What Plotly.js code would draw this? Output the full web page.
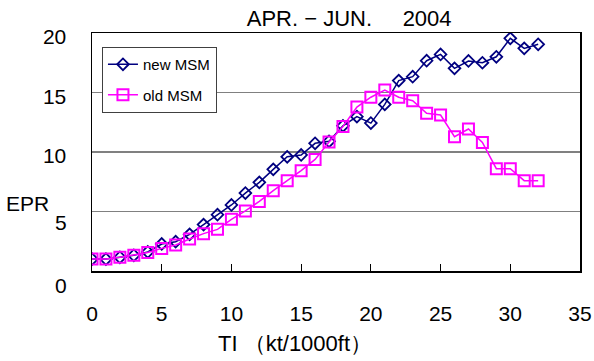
<!DOCTYPE html>
<html>
<head>
<meta charset="utf-8">
<script src="https://cdn.plot.ly/plotly-3.0.1.min.js"></script>
<style>html,body{margin:0;padding:0;background:#fff;}#chart{width:594px;height:361px;}</style>
</head>
<body>
<div id="chart"></div>
<script>
const TI = [0,1,2,3,4,5,6,7,8,9,10,11,12,13,14,15,16,17,18,19,20,21,22,23,24,25,26,27,28,29,30,31,32];
const newMSM = [1.0,1.0,1.15,1.32,1.6,2.27,2.46,3.08,3.9,4.73,5.55,6.55,7.45,8.54,9.6,9.75,10.73,10.9,12.2,12.97,12.43,14.0,16.0,16.33,17.67,18.2,17.03,17.65,17.5,18.0,19.55,18.71,19.05];
const oldMSM = [1.0,1.0,1.15,1.32,1.55,1.9,2.18,2.69,3.14,3.5,4.34,5.05,5.85,6.75,7.59,8.43,9.38,10.84,12.15,13.78,14.6,15.21,14.6,14.31,13.25,13.11,11.29,11.93,10.8,8.6,8.6,7.59,7.59];
const seriesNames = ['new MSM', 'old MSM'];
const xTicks = [0,5,10,15,20,25,30,35];
const yGrid = [5,10,15,20];
const yTickLabels = ['', '10', '15', '20'];
const yTicksLow = [5,0];
const titleText = 'APR. \u2212 JUN.\u00a0\u00a0\u00a0\u00a0 2004';
const xTitle = 'TI \uff08kt/1000ft\uff09';
const yTitle = 'EPR';

const FONT = 'Liberation Sans, Arial, sans-serif';
const FS = 21;

const traces = [
  {x: TI, y: newMSM, name: seriesNames[0], type: 'scatter', mode: 'lines+markers',
   legendgroup: 'a',
   line: {color: '#000080', width: 1.5},
   marker: {symbol: 'diamond-open', size: 9, color: '#000080', line: {width: 1.8, color: '#000080'}}},
  {x: TI, y: oldMSM, name: seriesNames[1], type: 'scatter', mode: 'lines+markers',
   legendgroup: 'b',
   line: {color: '#FF00FF', width: 1.5},
   marker: {symbol: 'square-open', size: 11, color: '#FF00FF', line: {width: 2, color: '#FF00FF'}}}
];

const annotations = yTicksLow.map((v) => ({
  x: -0.047, xref: 'paper', y: v, yref: 'y', xanchor: 'right', yanchor: 'middle',
  yshift: v === 0 ? -14 : -11,
  text: String(v), showarrow: false, font: {family: FONT, size: FS, color: '#000'}
}));
annotations.push({
  x: -0.18, xref: 'paper', y: 5.7, yref: 'y', xanchor: 'left', yanchor: 'middle',
  text: yTitle, showarrow: false, font: {family: FONT, size: FS, color: '#000'}
});
annotations.push({
  x: 0.417, xref: 'paper', y: -0.305, yref: 'paper', xanchor: 'center', yanchor: 'middle',
  text: xTitle, showarrow: false, font: {family: FONT, size: 22, color: '#000'}
});

const layout = {
  width: 594, height: 361,
  margin: {l: 92, r: 14, t: 33, b: 90},
  paper_bgcolor: '#fff', plot_bgcolor: '#fff',
  font: {family: FONT, size: FS, color: '#000'},
  title: {text: titleText, font: {family: FONT, size: 22, color: '#000'},
          x: 0.527, xanchor: 'center', y: 0.95, yanchor: 'middle', xref: 'paper', yref: 'container'},
  showlegend: true,
  legend: {x: 0.02, y: 0.942, xanchor: 'left', yanchor: 'top',
           bgcolor: '#fff', bordercolor: '#404040', borderwidth: 1.2,
           font: {family: FONT, size: 15, color: '#000'},
           traceorder: 'grouped', tracegroupgap: 8},
  xaxis: {range: [0, 35], tickvals: xTicks, ticktext: xTicks.map(String),
          ticks: 'inside', ticklen: 7, tickwidth: 1.2, tickcolor: '#000',
          showline: true, linecolor: '#000', linewidth: 1.5, mirror: true,
          showgrid: false, zeroline: false,
          ticklabelstandoff: 23,
          tickfont: {family: FONT, size: FS, color: '#000'}},
  yaxis: {range: [0, 20], tickvals: yGrid, ticktext: yTickLabels,
          ticks: '', showline: true, linecolor: '#000', linewidth: 1.5, mirror: true,
          showgrid: true, gridcolor: '#808080', gridwidth: 1.5, zeroline: false,
          ticklabelstandoff: 20, ticklabelshift: 4,
          tickfont: {family: FONT, size: FS, color: '#000'}},
  annotations: annotations
};

Plotly.newPlot('chart', traces, layout, {displayModeBar: false, staticPlot: true});
</script>
</body>
</html>
